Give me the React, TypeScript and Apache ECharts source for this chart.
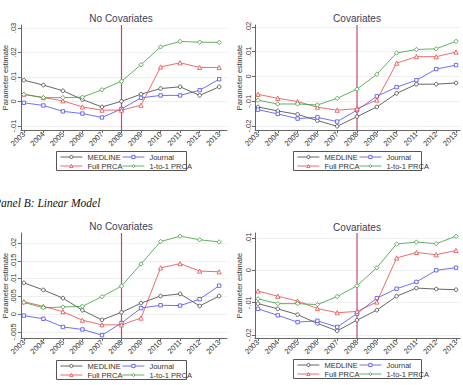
import React, { useEffect, useRef } from "react";
import * as echarts from "echarts";

// Survey years on the horizontal axis
const years = [2003, 2004, 2005, 2006, 2007, 2008, 2009, 2010, 2011, 2012, 2013];

// Top row, no covariates
const topNoCovMedline = [0.0087, 0.0067, 0.0044, 0.0008, -0.0022, 0.0001, 0.003, 0.0053, 0.006, 0.0025, 0.006];
const topNoCovJournal = [-0.0005, -0.0016, -0.004, -0.0049, -0.0065, -0.003, 0.0015, 0.0025, 0.0025, 0.0046, 0.0091];
const topNoCovFull = [0.003, 0.0016, 0.0003, -0.0022, -0.0035, -0.0035, -0.0015, 0.0141, 0.0158, 0.0139, 0.0139];
const topNoCovOneToOne = [0.0029, 0.0016, 0.0016, 0.0018, 0.0048, 0.0083, 0.015, 0.0223, 0.0245, 0.0242, 0.0241];

// Top row, with covariates
const topCovMedline = [-0.0123, -0.0139, -0.0153, -0.0178, -0.0201, -0.0162, -0.0123, -0.0068, -0.0031, -0.0031, -0.0026];
const topCovJournal = [-0.0134, -0.0151, -0.017, -0.0165, -0.0182, -0.0136, -0.008, -0.0043, -0.0015, 0.003, 0.0046];
const topCovFull = [-0.0072, -0.0088, -0.0101, -0.0124, -0.0136, -0.013, -0.0095, 0.0054, 0.008, 0.008, 0.0099];
const topCovOneToOne = [-0.0096, -0.0111, -0.0111, -0.0115, -0.0088, -0.0051, 0.0009, 0.0095, 0.0109, 0.0112, 0.0142];

// Panel B (linear model), no covariates
const linNoCovMedline = [0.0088, 0.0068, 0.0045, 0.0011, -0.0016, 0.0005, 0.0031, 0.0051, 0.0057, 0.0023, 0.0051];
const linNoCovJournal = [-0.0004, -0.0013, -0.0036, -0.0043, -0.0059, -0.0025, 0.0017, 0.0025, 0.0024, 0.0042, 0.008];
const linNoCovFull = [0.0035, 0.0022, 0.0007, -0.0017, -0.003, -0.003, -0.0011, 0.013, 0.0142, 0.0121, 0.0119];
const linNoCovOneToOne = [0.0033, 0.0018, 0.002, 0.0022, 0.0049, 0.0079, 0.0141, 0.0204, 0.0219, 0.0209, 0.0203];

// Panel B (linear model), with covariates
const linCovMedline = [-0.0103, -0.0119, -0.0137, -0.0164, -0.0187, -0.0154, -0.0123, -0.008, -0.0055, -0.0058, -0.006];
const linCovJournal = [-0.0119, -0.0139, -0.016, -0.0156, -0.0175, -0.0134, -0.0086, -0.0057, -0.0036, 0.0, 0.0008];
const linCovFull = [-0.0064, -0.008, -0.0095, -0.0118, -0.0131, -0.0127, -0.0098, 0.0038, 0.0055, 0.0048, 0.0061];
const linCovOneToOne = [-0.0088, -0.0103, -0.0103, -0.0106, -0.0081, -0.0048, 0.0008, 0.0081, 0.0087, 0.0082, 0.0105];

// Y tick values per panel
const topNoCovTicks = [-0.01, 0, 0.01, 0.02, 0.03];
const topCovTicks = [-0.02, -0.01, 0, 0.01, 0.02];
const linNoCovTicks = [-0.005, 0, 0.005, 0.01, 0.015, 0.02];
const linCovTicks = [-0.02, -0.01, 0, 0.01];

const seriesNames = ["MEDLINE", "Journal", "Full PRCA", "1-to-1 PRCA"];
const policyYear = 2008;

const COLORS = ["#404040", "#4b4bf0", "#e84848", "#3c9c3c"];
const SYMBOLS = ["circle", "rect", "triangle", "diamond"];
const SYMBOL_SIZES = [3.6, 3.4, 4.2, 4.4];
const FONT = "Liberation Sans";
const MARK_COLOR = "#c04a74";

const fmtTick = (v: number) => {
  if (Math.abs(v) < 1e-12) return "0";
  const s = String(Math.abs(Number(v.toPrecision(6)))).replace(/^0/, "");
  return (v < 0 ? "-" : "") + s;
};

type Panel = {
  title: string;
  left: number;
  top: number;
  width: number;
  height: number;
  yMin: number;
  yMax: number;
  xMin: number;
  xMax: number;
  ticks: number[];
  data: number[][];
  titleX: number;
  titleY: number;
  legendLeft: number;
  legendTop: number;
  legendWidth: number;
};

const panels: Panel[] = [
  {
    title: "No Covariates", left: 19, top: 25, width: 208, height: 105,
    yMin: -0.0116, yMax: 0.0312, xMin: 2002.85, xMax: 2013.4,
    ticks: topNoCovTicks,
    data: [topNoCovMedline, topNoCovJournal, topNoCovFull, topNoCovOneToOne],
    titleX: 121, titleY: 18, legendLeft: 56, legendTop: 151, legendWidth: 130,
  },
  {
    title: "Covariates", left: 255, top: 25, width: 205, height: 105,
    yMin: -0.0216, yMax: 0.0208, xMin: 2002.85, xMax: 2013.2,
    ticks: topCovTicks,
    data: [topCovMedline, topCovJournal, topCovFull, topCovOneToOne],
    titleX: 357, titleY: 18, legendLeft: 293, legendTop: 151, legendWidth: 128,
  },
  {
    title: "No Covariates", left: 19, top: 233, width: 208, height: 105,
    yMin: -0.0067, yMax: 0.0228, xMin: 2002.85, xMax: 2013.4,
    ticks: linNoCovTicks,
    data: [linNoCovMedline, linNoCovJournal, linNoCovFull, linNoCovOneToOne],
    titleX: 121, titleY: 226, legendLeft: 56, legendTop: 360, legendWidth: 130,
  },
  {
    title: "Covariates", left: 255, top: 233, width: 205, height: 105,
    yMin: -0.0209, yMax: 0.0115, xMin: 2002.85, xMax: 2013.2,
    ticks: linCovTicks,
    data: [linCovMedline, linCovJournal, linCovFull, linCovOneToOne],
    titleX: 357, titleY: 227, legendLeft: 293, legendTop: 359, legendWidth: 128,
  },
];

export default function App() {
  const ref = useRef<HTMLDivElement>(null);

  useEffect(() => {
    if (!ref.current) return;
    const chart = echarts.init(ref.current, undefined, { renderer: "svg" });

    const grid: any[] = [];
    const xAxis: any[] = [];
    const yAxis: any[] = [];
    const series: any[] = [];
    const legend: any[] = [];
    const graphic: any[] = [];

    const legendBase = {
      orient: "vertical",
      padding: 0,
      itemGap: 1,
      itemWidth: 22,
      itemHeight: 4,
      selectedMode: false,
      itemStyle: { borderWidth: 0.8 },
      lineStyle: { width: 0.8 },
      textStyle: { fontSize: 7.5, fontFamily: FONT, color: "#333", lineHeight: 8 },
    };

    panels.forEach((p, i) => {
      grid.push({ left: p.left, top: p.top, width: p.width, height: p.height, containLabel: false });
      xAxis.push({
        type: "value",
        gridIndex: i,
        min: p.xMin,
        max: p.xMax,
        axisLine: { show: true, onZero: false, lineStyle: { color: "#666", width: 1 } },
        axisTick: { show: true, length: 3, customValues: years, lineStyle: { color: "#666" } },
        axisLabel: {
          customValues: years,
          rotate: 45,
          margin: 3,
          fontSize: 7.5,
          fontFamily: FONT,
          color: "#333",
          formatter: (v: number) => String(Math.round(v)),
        },
        splitLine: { show: false },
      });
      yAxis.push({
        type: "value",
        gridIndex: i,
        min: p.yMin,
        max: p.yMax,
        name: "Parameter estimate",
        nameLocation: "middle",
        nameGap: 11,
        nameTextStyle: { fontSize: 7.5, fontFamily: FONT, color: "#333" },
        axisLine: { show: true, onZero: false, lineStyle: { color: "#666", width: 1 } },
        axisTick: { show: true, length: 3, customValues: p.ticks, lineStyle: { color: "#666" } },
        axisLabel: {
          customValues: p.ticks,
          rotate: 90,
          margin: 3,
          fontSize: 7.5,
          fontFamily: FONT,
          color: "#333",
          formatter: fmtTick,
        },
        splitLine: { show: true, lineStyle: { color: "#f0f0f0", width: 1 } },
      });

      // vertical reference line at the policy year, spanning the full value range
      series.push({
        type: "custom",
        name: "policy" + i,
        xAxisIndex: i,
        yAxisIndex: i,
        silent: true,
        z: 2,
        data: [[policyYear, p.yMin, p.yMax]],
        encode: { x: 0, y: [1, 2] },
        renderItem: (_params: any, api: any) => {
          const lo = api.coord([api.value(0), api.value(1)]);
          const hi = api.coord([api.value(0), api.value(2)]);
          return {
            type: "line",
            shape: { x1: lo[0], y1: lo[1], x2: hi[0], y2: hi[1] },
            style: { stroke: MARK_COLOR, lineWidth: 1.2, fill: null },
          };
        },
      });

      p.data.forEach((vals, k) => {
        series.push({
          type: "line",
          name: seriesNames[k],
          xAxisIndex: i,
          yAxisIndex: i,
          data: years.map((y, j) => [y, vals[j]]),
          symbol: SYMBOLS[k],
          symbolSize: SYMBOL_SIZES[k],
          showSymbol: true,
          lineStyle: { color: COLORS[k], width: 0.8 },
          itemStyle: { color: "#ffffff", borderColor: COLORS[k], borderWidth: 0.8 },
          emphasis: { disabled: true },
          z: 3 + k,
        });
      });

      // two legend columns inside a framed box
      legend.push({
        ...legendBase,
        left: p.legendLeft + 4,
        top: p.legendTop + 2,
        data: ["MEDLINE", "Full PRCA"],
      });
      legend.push({
        ...legendBase,
        left: p.legendLeft + 66,
        top: p.legendTop + 2,
        data: ["Journal", "1-to-1 PRCA"],
      });

      graphic.push({
        type: "rect",
        x: p.legendLeft + 0.5,
        y: p.legendTop + 0.5,
        shape: { width: p.legendWidth, height: 19 },
        style: { fill: "none", stroke: "#555", lineWidth: 1 },
        silent: true,
      });

      graphic.push({
        type: "text",
        x: p.titleX,
        y: p.titleY,
        style: {
          text: p.title,
          fontSize: 10,
          fontFamily: FONT,
          fill: "#3a3d55",
          textAlign: "center",
          textVerticalAlign: "middle",
        },
      });
    });

    graphic.push({
      type: "text",
      x: -6,
      y: 203,
      style: {
        text: "Panel B: Linear Model",
        fontSize: 11.5,
        fontStyle: "italic",
        fontFamily: "Liberation Serif",
        fill: "#111",
        textAlign: "left",
        textVerticalAlign: "middle",
      },
    });

    chart.setOption({
      animation: false,
      backgroundColor: "#ffffff",
      grid,
      xAxis,
      yAxis,
      series,
      legend,
      graphic,
    });

    return () => chart.dispose();
  }, []);

  return (
    <div
      ref={ref}
      style={{ position: "absolute", left: 0, top: 0, width: 463, height: 385 }}
    />
  );
}
